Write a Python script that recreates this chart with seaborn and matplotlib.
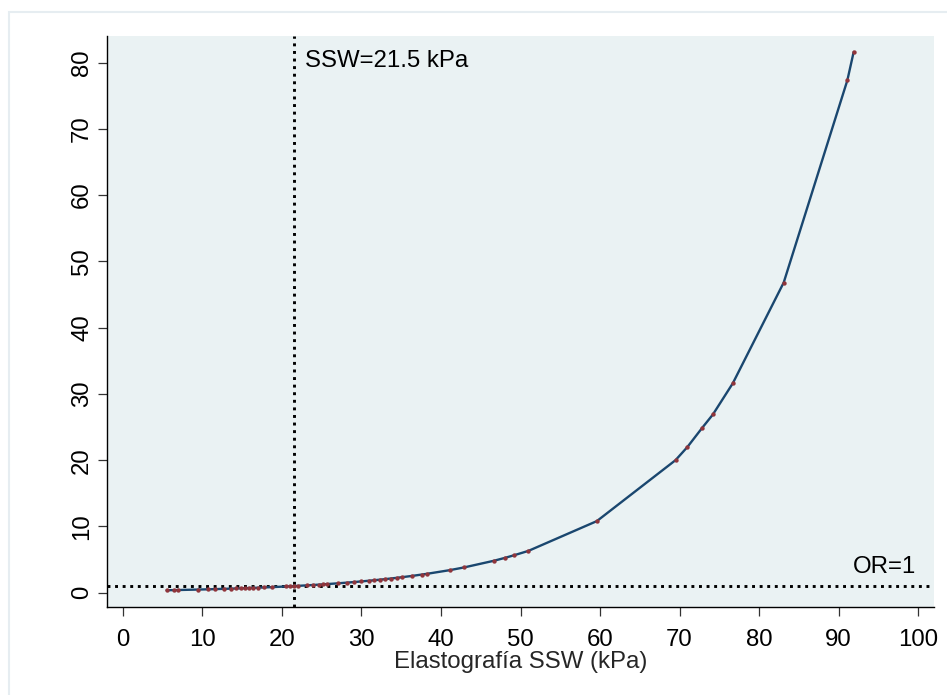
import matplotlib
matplotlib.use("Agg")
import matplotlib.pyplot as plt
import seaborn as sns
import pandas as pd
from matplotlib.patches import Rectangle

# Data
ssw_kpa = [5.5, 6.4, 6.9, 9.4, 10.7, 11.6, 12.7, 13.6, 14.2, 14.8, 15.3, 15.9,
           16.4, 17.0, 17.7, 18.8, 20.5, 21.0, 21.5, 22.0, 23.2, 23.9, 24.6,
           25.2, 25.7, 27.0, 28.2, 29.1, 29.9, 30.9, 31.6, 32.3, 33.0, 33.7,
           34.5, 35.1, 36.3, 37.6, 38.2, 41.1, 42.9, 46.7, 48.0, 49.2, 51.0,
           59.6, 69.5, 71.0, 72.8, 74.2, 76.7, 83.1, 91.1, 91.9]
odds_ratio = [0.37, 0.39, 0.40, 0.47, 0.51, 0.54, 0.58, 0.61, 0.64, 0.66, 0.68,
              0.70, 0.73, 0.75, 0.79, 0.84, 0.94, 0.97, 1.00, 1.03, 1.11, 1.16,
              1.21, 1.26, 1.30, 1.41, 1.52, 1.61, 1.69, 1.80, 1.88, 1.96, 2.05,
              2.14, 2.25, 2.34, 2.52, 2.74, 2.84, 3.40, 3.81, 4.83, 5.24, 5.65,
              6.31, 10.8, 20.0, 22.0, 24.8, 26.9, 31.6, 46.8, 77.3, 81.6]
x_ticks = [0, 10, 20, 30, 40, 50, 60, 70, 80, 90, 100]
y_ticks = [0, 10, 20, 30, 40, 50, 60, 70, 80]
cutoff = 21.5
ref_or = 1
cutoff_label = "SSW=21.5 kPa"
ref_label = "OR=1"
x_label = "Elastografía SSW (kPa)"

df = pd.DataFrame({"ssw": ssw_kpa, "odds": odds_ratio})

sns.set_theme(style="ticks")
plt.rcParams["font.family"] = ["Liberation Sans", "DejaVu Sans"]

fig = plt.figure(figsize=(9.47, 6.95), dpi=100)
fig.patch.set_facecolor("white")
# outer graph-region border (light)
fig.patches.append(Rectangle((8.5 / 947, -0.1), 1.2, 1.1 - 12.5 / 695,
                             transform=fig.transFigure, fill=False,
                             edgecolor="#e6edf1", linewidth=1.5, zorder=0))

ax = fig.add_axes([107 / 947, 1 - 607 / 695, (934 - 107) / 947, (607 - 36) / 695])
ax.set_facecolor("#eaf2f3")

navy = "#1a476f"
maroon = "#90353b"

sns.lineplot(data=df, x="ssw", y="odds", ax=ax, color=navy, linewidth=1.7,
             sort=True, estimator=None, zorder=3)
sns.scatterplot(data=df, x="ssw", y="odds", ax=ax, color=maroon, s=10,
                linewidth=0, zorder=4)

ax.axvline(cutoff, color="black", linewidth=2.1, linestyle=(0, (1, 1.6)), zorder=2)
ax.axhline(ref_or, color="black", linewidth=2.1, linestyle=(0, (1, 1.6)), zorder=2)

ax.text(22.9, 80.3, cutoff_label, ha="left", va="center", fontsize=17.3, color="black")
ax.text(99.8, 3.9, ref_label, ha="right", va="center", fontsize=17.3, color="black")

ax.set_xlim(-2, 102)
ax.set_ylim(-2.16, 84)
ax.set_xticks(x_ticks)
ax.set_yticks(y_ticks)
ax.set_xticklabels([str(t) for t in x_ticks])
ax.set_yticklabels([str(t) for t in y_ticks], rotation=90, va="center")

ax.set_xlabel(x_label, fontsize=17.3, labelpad=0)
ax.set_ylabel("")

for s in ["top", "right"]:
    ax.spines[s].set_visible(False)
for s in ["left", "bottom"]:
    ax.spines[s].set_color("black")
    ax.spines[s].set_linewidth(1.0)

ax.tick_params(axis="both", direction="out", length=6.5, width=0.9,
               color="#333333", labelsize=17.3, labelcolor="black")
ax.tick_params(axis="x", pad=9.5)
ax.tick_params(axis="y", pad=3.5)

fig.savefig("out.png", dpi=100)
